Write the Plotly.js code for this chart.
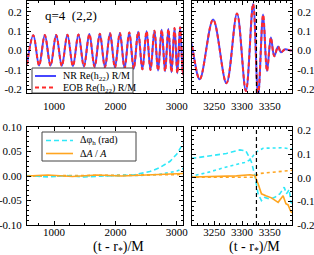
<!DOCTYPE html>
<html>
<head>
<meta charset="utf-8">
<script src="https://cdn.plot.ly/plotly-3.0.1.min.js"></script>
<style>html,body{margin:0;padding:0;background:#fff;}#chart{width:314px;height:255px;}</style>
</head>
<body>
<div id="chart"></div>
<script>
// ---- waveform extrema (time in M, Re(h22) R/M) ----
const waveT = [560, 663, 757, 850, 943, 1035, 1127, 1218, 1308, 1398, 1487, 1575, 1661, 1746, 1829, 1912, 1992, 2072, 2149, 2225, 2298, 2370, 2439, 2507, 2571, 2635, 2694, 2753, 2808, 2862, 2912, 2962, 3008, 3053, 3098, 3140, 3172, 3200, 3210, 3224, 3248, 3272, 3291, 3307, 3320, 3329, 3338, 3345, 3352, 3358, 3365, 3370, 3377, 3388, 3400];
const nrH = [-0.072, 0.078, -0.078, 0.079, -0.079, 0.080, -0.080, 0.081, -0.081, 0.082, -0.083, 0.084, -0.085, 0.086, -0.087, 0.088, -0.089, 0.090, -0.092, 0.093, -0.095, 0.096, -0.098, 0.099, -0.101, 0.102, -0.104, 0.106, -0.108, 0.110, -0.113, 0.115, -0.118, 0.120, -0.123, 0.128, -0.135, 0.150, 0.020, -0.149, 0.159, -0.170, 0.190, -0.210, 0.240, -0.235, 0.185, -0.107, 0.066, -0.030, 0.020, -0.010, 0.005, 0.000, 0.000];
const eobH = [-0.072, 0.078, -0.078, 0.079, -0.079, 0.080, -0.080, 0.081, -0.081, 0.082, -0.083, 0.084, -0.085, 0.086, -0.087, 0.088, -0.089, 0.090, -0.092, 0.093, -0.095, 0.096, -0.098, 0.099, -0.101, 0.102, -0.104, 0.106, -0.108, 0.110, -0.113, 0.115, -0.118, 0.120, -0.123, 0.128, -0.135, 0.150, 0.020, -0.149, 0.159, -0.170, 0.190, -0.210, 0.240, -0.235, 0.185, -0.107, 0.066, -0.030, 0.020, -0.010, 0.005, 0.000, 0.000];

// ---- phase difference (rad), dashed cyan ----
const dphiT = [560, 900, 1200, 1500, 1800, 2100, 2300, 2400, 2560, 2720, 2890, 3000, 3060, 3100, 3150, 3210, 3242, 3272, 3296, 3307, 3311, 3317, 3323, 3329, 3335, 3341, 3350, 3359, 3368, 3376, 3380, 3385, 3388, 3392];
const dphi = [0.001, -0.002, 0.001, -0.002, 0.000, 0.001, 0.002, 0.005, 0.009, 0.017, 0.030, 0.045, 0.058, 0.068, 0.076, 0.082, 0.093, 0.103, 0.118, 0.114, 0.096, 0.067, 0.010, -0.068, -0.097, -0.083, -0.090, -0.083, -0.068, -0.040, -0.068, -0.050, -0.104, -0.110];
// ---- phase difference, second alignment (dotted cyan) ----
const dphi2T = [560, 1500, 2400, 2700, 2900, 3000, 3100, 3210, 3242, 3272, 3305, 3314, 3326, 3338, 3356, 3374, 3392];
const dphi2 = [0.000, 0.000, 0.001, 0.003, 0.007, 0.010, 0.015, 0.007, 0.025, 0.046, 0.065, 0.075, 0.110, 0.125, 0.127, 0.127, 0.120];

// ---- relative amplitude difference (solid orange) ----
const dampT = [560, 900, 1300, 1700, 2100, 2500, 2800, 3100, 3210, 3290, 3314, 3323, 3329, 3335, 3343, 3353, 3365, 3374, 3379, 3383, 3388, 3392];
const damp = [0.000, 0.002, -0.001, 0.002, 0.000, 0.002, 0.003, 0.005, 0.003, 0.008, 0.013, 0.010, -0.025, -0.068, -0.076, -0.085, -0.104, -0.076, -0.110, -0.115, -0.144, -0.150];
// ---- relative amplitude difference, second alignment (dotted orange) ----
const damp2T = [560, 1500, 2500, 3100, 3210, 3320, 3332, 3356, 3392];
const damp2 = [0.000, 0.001, 0.002, 0.003, 0.000, 0.002, 0.018, 0.025, 0.032];

const tMerger = 3326;

// tick labels
const topYVals = [-0.2, -0.1, 0, 0.1, 0.2];
const topYText = ['-0.2', '-0.1', '0.0', '0.1', '0.2'];
const botLYVals = [-0.1, -0.05, 0, 0.05, 0.1];
const botLYText = ['-0.10', '-0.05', '0.00', '0.05', '0.10'];
const botRYVals = [-0.2, -0.1, 0, 0.1, 0.2];
const botRYText = ['-0.2', '-0.1', '0.0', '0.1', '0.2'];
const leftXVals = [1000, 2000, 3000];
const rightXVals = [3250, 3300, 3350];

// legend labels
const topLegend = ['NR Re(h<sub>22</sub>) R/M', 'EOB Re(h<sub>22</sub>) R/M'];
const botLegend = ['\u0394\u03c6<sub>h</sub> (rad)', '\u0394<i>A</i> / <i>A</i>'];
const xTitleText = '(t - r<sub>*</sub>)/M';
const panelLabel = 'q=4&nbsp;&nbsp;(2,2)';

const FONT = 'Liberation Serif, Times New Roman, serif';
const BLUE = '#4646ff', RED = '#ff2a2a', CYAN = '#30e8f8', ORANGE = '#ffa520';

function ax(extra) {
  return Object.assign({
    showline: true, linecolor: '#000', linewidth: 1, mirror: 'allticks',
    ticks: 'inside', ticklen: 4, tickcolor: '#000', tickwidth: 1,
    showgrid: false, zeroline: false, ticklabelstandoff: 2,
    tickfont: {family: FONT, size: 11, color: '#000'},
  }, extra);
}

const traces = [];
[['x', 'y'], ['x2', 'y2']].forEach((p) => {
  traces.push({x: waveT, y: nrH, xaxis: p[0], yaxis: p[1], type: 'scatter', mode: 'lines',
    line: {color: BLUE, width: 2, shape: 'spline'}, name: topLegend[0], showlegend: false});
  traces.push({x: waveT, y: eobH, xaxis: p[0], yaxis: p[1], type: 'scatter', mode: 'lines',
    line: {color: RED, width: 2, dash: '4px,3px', shape: 'spline'}, name: topLegend[1], showlegend: false});
});
[['x3', 'y3'], ['x4', 'y4']].forEach((p) => {
  traces.push({x: dphi2T, y: dphi2, xaxis: p[0], yaxis: p[1], type: 'scatter', mode: 'lines',
    line: {color: CYAN, width: 1.6, dash: 'dot'}, showlegend: false});
  traces.push({x: damp2T, y: damp2, xaxis: p[0], yaxis: p[1], type: 'scatter', mode: 'lines',
    line: {color: ORANGE, width: 1.6, dash: 'dot'}, showlegend: false});
  traces.push({x: dphiT, y: dphi, xaxis: p[0], yaxis: p[1], type: 'scatter', mode: 'lines',
    line: {color: CYAN, width: 1.6, dash: '5px,3px'}, name: botLegend[0], showlegend: false});
  traces.push({x: dampT, y: damp, xaxis: p[0], yaxis: p[1], type: 'scatter', mode: 'lines',
    line: {color: ORANGE, width: 1.6}, name: botLegend[1], showlegend: false});
});

const W = 314, H = 255;
const px = v => v / W, py = v => 1 - v / H;
const xdL = [px(27), px(183)], xdR = [px(192), px(292)];
const ydT = [py(93), py(1)], ydB = [py(225), py(127)];
const minorX = d => ({dtick: d, ticks: 'inside', ticklen: 2, tickcolor: '#000'});

// legend boxes (paper px): manual legends
const legendShapes = [
  {type: 'rect', xref: 'paper', yref: 'paper', x0: px(32), x1: px(133), y0: py(93), y1: py(68), line: {color: '#444', width: 1}, fillcolor: '#fff', layer: 'above'},
  {type: 'line', xref: 'paper', yref: 'paper', x0: px(35), x1: px(56), y0: py(76), y1: py(76), line: {color: BLUE, width: 2}, layer: 'above'},
  {type: 'line', xref: 'paper', yref: 'paper', x0: px(35), x1: px(56), y0: py(87.5), y1: py(87.5), line: {color: RED, width: 2, dash: '4px,3px'}, layer: 'above'},
  {type: 'rect', xref: 'paper', yref: 'paper', x0: px(42), x1: px(136), y0: py(161), y1: py(132), line: {color: '#444', width: 1}, fillcolor: '#fff', layer: 'above'},
  {type: 'line', xref: 'paper', yref: 'paper', x0: px(46), x1: px(73), y0: py(140.5), y1: py(140.5), line: {color: CYAN, width: 1.6, dash: '5px,3px'}, layer: 'above'},
  {type: 'line', xref: 'paper', yref: 'paper', x0: px(46), x1: px(73), y0: py(153.5), y1: py(153.5), line: {color: ORANGE, width: 1.6}, layer: 'above'}
];

const txt = (x, y, t, size, anchor) => ({xref: 'paper', yref: 'paper', x: px(x), y: py(y), xanchor: anchor || 'left', yanchor: 'middle',
  showarrow: false, text: t, font: {family: FONT, size: size, color: '#000'}});

const layout = {
  width: W, height: H, margin: {l: 0, r: 0, t: 0, b: 0},
  paper_bgcolor: '#fff', plot_bgcolor: '#fff',
  font: {family: FONT, color: '#000'},
  showlegend: false,
  xaxis: ax({domain: xdL, anchor: 'y', range: [560, 3100], tickvals: leftXVals, minor: minorX(250), ticklabelstandoff: 3}),
  yaxis: ax({domain: ydT, anchor: 'x', range: [-0.22, 0.255], tickvals: topYVals, ticktext: topYText, minor: minorX(0.02)}),
  xaxis2: ax({domain: xdR, anchor: 'y2', range: [3210, 3390], tickvals: rightXVals, minor: minorX(10), ticklabelstandoff: 3}),
  yaxis2: ax({domain: ydT, anchor: 'x2', side: 'right', range: [-0.22, 0.255], tickvals: topYVals, ticktext: topYText, minor: minorX(0.02)}),
  xaxis3: ax({domain: xdL, anchor: 'y3', range: [560, 3100], tickvals: leftXVals, minor: minorX(250), ticklabelstandoff: -3}),
  yaxis3: ax({domain: ydB, anchor: 'x3', range: [-0.1, 0.1], tickvals: botLYVals, ticktext: botLYText, minor: minorX(0.01)}),
  xaxis4: ax({domain: xdR, anchor: 'y4', range: [3210, 3390], tickvals: rightXVals, minor: minorX(10), ticklabelstandoff: -3}),
  yaxis4: ax({domain: ydB, anchor: 'x4', side: 'right', range: [-0.2, 0.215], tickvals: botRYVals, ticktext: botRYText, minor: minorX(0.02)}),
  shapes: [
    {type: 'line', xref: 'x2', yref: 'y2 domain', x0: tMerger, x1: tMerger, y0: 0, y1: 1, line: {color: '#000', width: 1.2, dash: '4px,3px'}},
    {type: 'line', xref: 'x4', yref: 'y4 domain', x0: tMerger, x1: tMerger, y0: 0, y1: 1, line: {color: '#000', width: 1.2, dash: '4px,3px'}}
  ].concat(legendShapes),
  annotations: [
    txt(43, 15, panelLabel, 13),
    txt(61, 76, topLegend[0], 10),
    txt(61, 88, topLegend[1], 10),
    txt(78, 140, botLegend[0], 10),
    txt(78, 153, botLegend[1], 10),
    txt(118, 247, xTitleText, 14, 'center'),
    txt(254, 247, xTitleText, 14, 'center')
  ]
};

Plotly.newPlot('chart', traces, layout, {staticPlot: true, displayModeBar: false});
</script>
</body>
</html>
